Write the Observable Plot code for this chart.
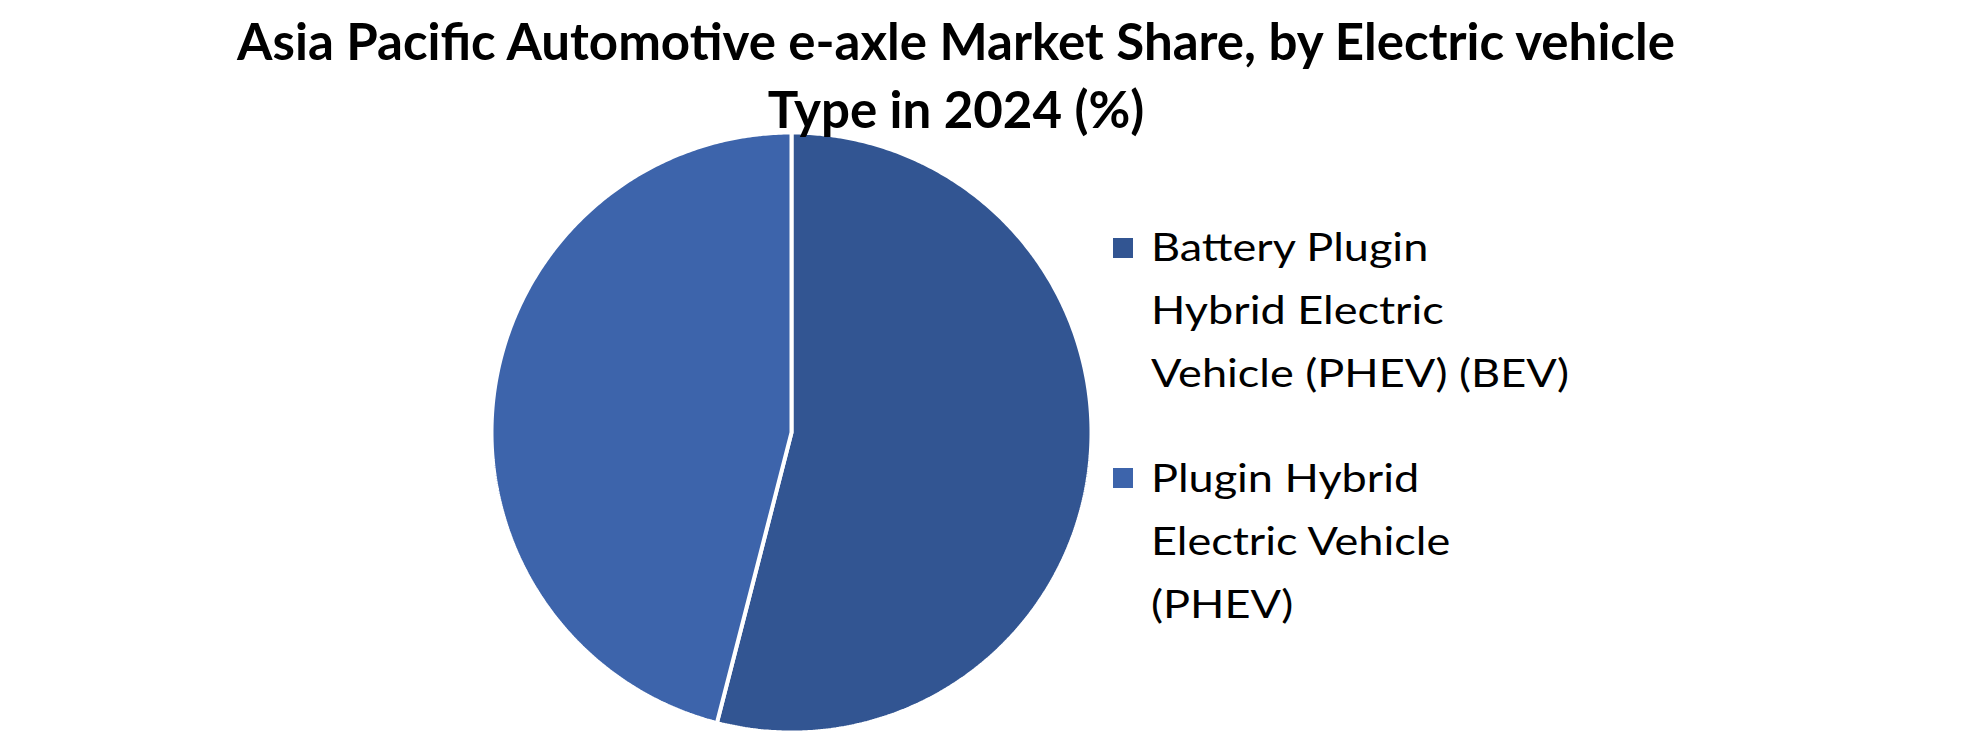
<!DOCTYPE html>
<html>
<head>
<meta charset="utf-8">
<script src="https://cdn.jsdelivr.net/npm/d3@7"></script>
<script src="https://cdn.jsdelivr.net/npm/@observablehq/plot@0.6"></script>
<style>
  html, body { margin: 0; padding: 0; background: #fff; }
  #wrap { position: relative; width: 1980px; height: 740px; overflow: hidden; font-family: Lato, "Open Sans", sans-serif; }
  #chart { position: absolute; left: 0; top: 0; }
  .title { position: absolute; left: 0; width: 1912px; text-align: center; font-weight: 700; font-size: 52px; line-height: 68px; color: #000; white-space: nowrap; transform-origin: 956px 50%; }
  .legend-item { position: absolute; left: 1113px; }
  .legend-item .sw { position: absolute; left: 0; width: 20px; height: 20px; }
  .legend-item .txt { position: absolute; left: 38px; top: 0; font-size: 38px; line-height: 63px; color: #000; white-space: nowrap; transform-origin: 0 0; }
</style>
</head>
<body>
<div id="wrap"></div>
<script>
// ---- data ----
const titleLines = ["Asia Pacific Automotive e-axle Market Share, by Electric vehicle", "Type in 2024 (%)"];
const categories = ["Battery Plugin Hybrid Electric Vehicle (PHEV) (BEV)", "Plugin Hybrid Electric Vehicle (PHEV)"];
const shares = [54, 46];
const colors = ["#325592", "#3D64AB"];
const legendLines = [
  ["Battery Plugin", "Hybrid Electric", "Vehicle (PHEV) (BEV)"],
  ["Plugin Hybrid", "Electric Vehicle", "(PHEV)"]
];

// ---- pie geometry (unit circle, y up, clockwise from 12 o'clock) ----
const arcs = d3.pie().sort(null).value(d => d)(shares);
const pts = [];
arcs.forEach((a, i) => {
  pts.push({slice: categories[i], x: 0, y: 0});
  const n = Math.max(2, Math.ceil((a.endAngle - a.startAngle) / (Math.PI / 360)));
  for (let k = 0; k <= n; k++) {
    const t = a.startAngle + (a.endAngle - a.startAngle) * k / n;
    pts.push({slice: categories[i], x: Math.sin(t), y: Math.cos(t)});
  }
});

const W = 1980, H = 740, cx = 791, cy = 432, R = 300;
const chart = Plot.plot({
  width: W, height: H,
  margin: 0,
  x: {domain: [-cx / R, (W - cx) / R], range: [0, W], axis: null},
  y: {domain: [(cy - H) / R, cy / R], range: [H, 0], axis: null},
  color: {domain: categories, range: colors},
  marks: [
    Plot.line(pts, {x: "x", y: "y", z: "slice", fill: "slice", stroke: "white", strokeWidth: 4, strokeLinejoin: "miter", curve: "linear-closed"})
  ]
});
chart.id = "chart";
const wrap = document.getElementById("wrap");
wrap.appendChild(chart);

// ---- title ----
const ctx = document.createElement("canvas").getContext("2d");
function measure(text, font) { ctx.font = font; return ctx.measureText(text).width; }
titleLines.forEach((t, i) => {
  const d = document.createElement("div");
  d.className = "title";
  d.textContent = t;
  d.style.top = (6 + i * 68) + "px";
  wrap.appendChild(d);
});
const tw = measure(titleLines[0], "700 52px Lato");
const tScale = 1442 / tw;
document.querySelectorAll(".title").forEach(d => d.style.transform = `scaleX(${tScale})`);

// ---- legend ----
const legendTops = [215, 446];
const lw = measure("Vehicle (PHEV) (BEV)", "38px Lato");
const lScale = 418 / lw;
legendLines.forEach((lines, i) => {
  const item = document.createElement("div");
  item.className = "legend-item";
  item.style.top = legendTops[i] + "px";
  const sw = document.createElement("div");
  sw.className = "sw";
  sw.style.background = colors[i];
  sw.style.top = (i === 0 ? 23 : 22) + "px";
  item.appendChild(sw);
  const txt = document.createElement("div");
  txt.className = "txt";
  txt.innerHTML = lines.map(l => l.replace(/&/g, "&amp;").replace(/</g, "&lt;")).join("<br>");
  txt.style.transform = `scaleX(${lScale})`;
  item.appendChild(txt);
  wrap.appendChild(item);
});
</script>
</body>
</html>
